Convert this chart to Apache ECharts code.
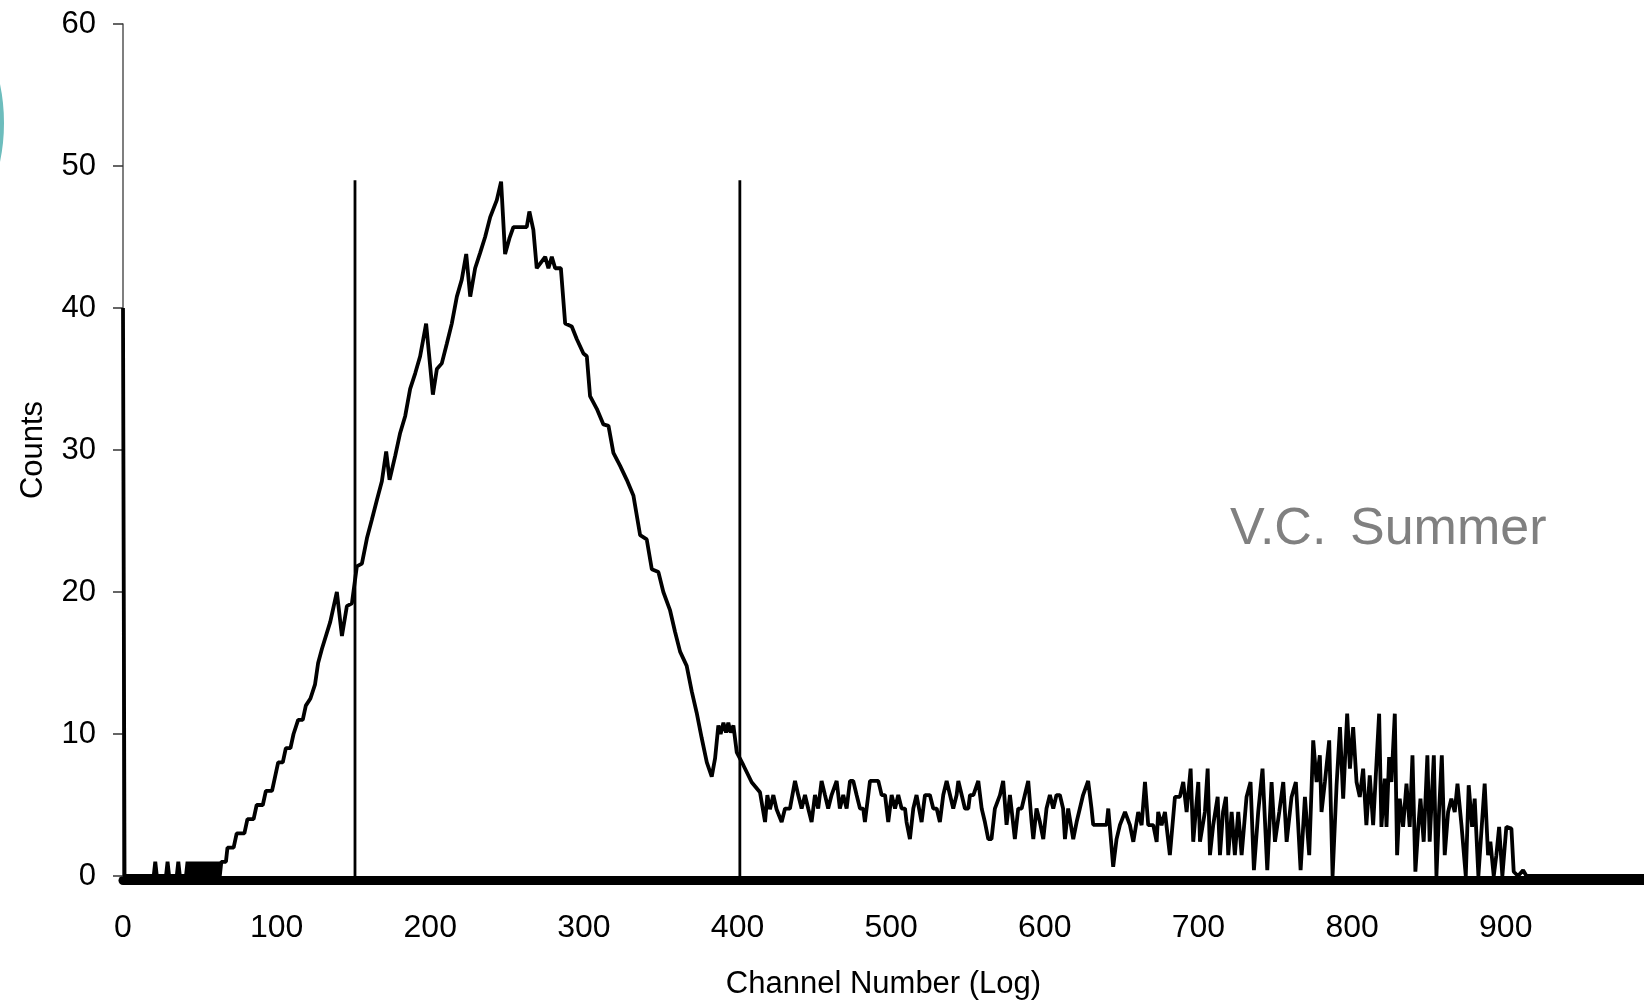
<!DOCTYPE html>
<html>
<head>
<meta charset="utf-8">
<script src="https://cdn.jsdelivr.net/npm/echarts@6/dist/echarts.min.js"></script>
<style>
html,body{margin:0;padding:0;background:#fff;}
#chart{width:1644px;height:1005px;}
</style>
</head>
<body>
<div id="chart"></div>
<script>
// ---- data: [channel, counts] ----
const lowChannels = [
  [0,40],[1,0],[20,0],[21,1],[22,0],[28,0],[29,1],[30,0],[35,0],[36,1],[37,0],
  [41,0],[42,1],[43,0],[44,1],[45,0],[46,1],[47,0],[48,1],[49,0],[50,1],[51,0],
  [52,1],[53,0],[54,1],[55,0],[56,1],[57,0],[58,1],[59,0],[60,1],[61,0],[62,1],
  [63,0],[64,1],[67,1],[68,2],[72,2],[74,3],[79,3],[81,4],[85,4],[87,5],[91,5],
  [93,6],[97,6],[99,7],[101,8],[104,8],[106,9],[109,9],[111,10],[114,11],[117,11],
  [119,12],[122,12.5],[125,13.5],[127,15]
];
const peakChannels = [
  [129.5,16.0],[134.9,17.9],[139.2,20.0],[142.5,16.9],[145.7,19.0],[149,19.2],
  [152.2,21.8],[155.5,22.0],[158.8,23.8],[162,25.1],[165.3,26.5],[168.5,27.8],
  [171.3,29.9],[173.5,27.9],[177.2,29.6],[180.4,31.2],[183.7,32.4],[186.9,34.3],
  [190.2,35.4],[193.4,36.6],[197.3,38.9],[201.7,33.9],[204.3,35.7],[207.5,36.1],
  [210.8,37.5],[214,38.9],[217.3,40.8],[220.5,42.0],[223.4,43.8],[226,40.8],
  [229.2,42.8],[232.5,43.9],[235.7,45.0],[239,46.4],[243.3,47.6],[246.1,48.9],
  [248.7,43.8],[251.5,44.9],[254.1,45.7],[258.5,45.7],[262.8,45.7],[264.5,46.8],
  [267.1,45.5],[269.3,42.8],[274.8,43.6],[276.9,42.8],[279.1,43.6],[281.3,42.8],
  [285,42.8],[287.8,38.9],[292.1,38.7],[295.4,37.8],[299.7,36.8]
];
const fallChannels = [
  [301.9,36.6],[304,33.8],[308.4,32.9],[312.7,31.8],[316,31.7],[319.2,29.8],
  [323.5,28.9],[327.9,27.9],[332.2,26.8],[336.6,24.0],[340.9,23.7],[344.2,21.6],
  [348.5,21.4],[351.7,20.0],[356.1,18.7],[359.3,17.2],[362.6,15.8],[366.9,14.8],
  [370.2,13.0],[373.4,11.5],[376.7,9.7],[380,8.0],[383.2,7.0],[385.4,8.3],
  [387.5,10.6],[389,10.0],[390.8,10.8],[392.5,10.1],[394,10.8],[395.5,10.1],
  [397.3,10.6],[399.5,8.7],[403.8,7.8],[409.2,6.6],[414.6,5.9]
];
const plateauChannels = [
  [417.9,3.8],[419.4,5.7],[421.1,4.7],[423.3,5.7],[425.4,4.7],[428.7,3.8],[430.9,4.75],
  [434.1,4.75],[437.4,6.7],[439.5,5.7],[441.7,4.75],[443.9,5.7],[446,4.75],[448.2,3.8],
  [450.4,5.7],[452.5,4.75],[454.7,6.7],[456.9,5.7],[459,4.75],[461.2,5.7],[464.5,6.7],
  [466.6,4.75],[468.8,5.7],[471,4.75],[473.2,6.7],[475.3,6.7],[477.5,5.7],[479.7,4.75],
  [481.8,4.75],[482.9,3.8],[485.1,5.7],[486.2,6.7],[489.4,6.7],[491.6,6.7],[493.8,5.7],
  [496,5.7],[498.1,3.8],[500.3,5.7],[502.5,4.75],[504.6,5.7],[506.8,4.75],[509,4.75],
  [510,3.8],[512.2,2.6],[514.4,4.75],[516.5,5.7],[517.6,5.7],[519.8,3.8],[522,5.7],
  [525.2,5.7],[527.4,4.75],[529.6,4.75],[531.7,3.8],[533.9,5.7],[536.1,6.7],[538.3,5.7],
  [540.4,4.75],[542.6,5.7],[543.7,6.7],[545.9,5.7],[548,4.75],[550.2,4.75],[551.3,5.7],
  [553.5,5.7],[556.7,6.7],[558.9,4.75],[561,3.8],[563.2,2.6],[565.3,2.6],[567.5,4.75],
  [570.8,5.7],[572.9,6.7],[575.1,3.6],[577.3,5.7],[578.4,5.7],[580.5,2.6],[582.7,4.75],
  [584.9,4.75],[587,5.7],[589.2,6.7],[591.4,3.8],[592.5,2.6],[594.6,4.75],[596.8,3.8],
  [599,2.6],[601.1,4.75],[603.3,5.7],[605.5,4.75],[607.6,5.7],[609.8,5.7],[611.9,4.75],
  [613.1,2.6],[615.2,4.75],[616.3,4.75],[618.5,2.6],[620.7,3.8],[622.8,4.75],[624.9,5.7],
  [628.2,6.7],[630.4,4.75],[631.5,3.6],[634,3.6],[637,3.6],[640.2,3.6],[641.3,4.75],
  [643,2.6],[644.5,0.65],[646.7,2.6],[648.9,3.6]
];
const noisyChannels = [
  [652.2,4.51],[655.4,3.58],[657.6,2.41],[660.8,4.51],[663,3.58],[665.2,6.62],[667.3,3.58],
  [670.6,3.58],[672.8,2.41],[673.8,4.51],[676,3.58],[678.2,4.51],[681.4,1.47],[684.7,5.57],
  [687.9,5.57],[690.1,6.62],[692.3,4.51],[694.9,7.56],[696.6,2.41],[699.9,6.62],[701,2.41],
  [704.2,4.51],[706,7.56],[707.5,1.47],[709.6,3.58],[712.5,5.57],[714,1.47],[716,4.51],
  [717.9,5.57],[719.4,1.47],[721.6,4.51],[723.7,1.47],[725.9,4.51],[728.1,1.47],[731.3,5.57],
  [733.9,6.62],[736.1,0.41],[738.9,4.51],[741.7,7.56],[744.8,0.41],[747.6,6.62],[749.8,2.41],
  [752.6,4.51],[755.2,6.62],[757.4,2.41],[760.6,5.57],[763.4,6.62],[766.5,0.41],[769.3,5.57],
  [772.1,1.47],[774.7,9.55],[776.9,6.62],[779,8.5],[780.1,4.51],[782.3,6.62],[785.1,9.55],
  [787.3,0],[789.9,6.39],[792.1,10.49],[794.2,5.45],[796.8,11.43],[798.6,7.56],[800.7,10.49],
  [802.9,6.62]
];
const tailChannels = [
  [805,5.57],[807.2,7.56],[809.3,3.58],[811.5,7.09],[813.7,3.58],[817.6,11.43],[819.1,3.46],
  [821.3,6.86],[822.4,3.46],[824.1,8.38],[825.6,6.62],[827.8,11.43],[829.3,1.47],[831,5.45],
  [833.2,3.46],[835.4,6.5],[837.5,3.46],[839.3,8.5],[841.2,0.3],[843,3.34],[844.5,5.45],
  [846.6,2.41],[849,8.5],[850.5,2.41],[853.2,8.5],[854.9,0],[856.6,4.51],[858.4,8.5],
  [860.3,1.47],[862.5,4.51],[864.6,5.45],[866.8,4.51],[868.6,6.5],[871.2,3.58],[874,0],
  [875.9,6.39],[878.1,3.46],[879.8,5.45],[882.2,0],[883.7,2.41],[886.3,6.5],[888.5,1.47],
  [890,2.41],[892.2,0],[893.9,1.47],[895.7,3.46],[897.8,0],[900.4,3.46],[903.7,3.34],
  [905.2,0.3],[908,0],[911.3,0.41],[913.5,0],[990,0]
];
// window (gate) markers
const gateChannels = [151, 401.5];
const gateTop = 49;
// axis ranges
const xRange = [0, 990, 100];
const yRange = [0, 60, 10];

const spectrum = [].concat(lowChannels, peakChannels, fallChannels, plateauChannels, noisyChannels, tailChannels);
const FONT = '"Liberation Sans", Arial, Helvetica, sans-serif';

const chart = echarts.init(document.getElementById('chart'), null, {renderer: 'canvas'});
const gateSeries = gateChannels.map(ch => ({
  type: 'line',
  data: [[ch, 0], [ch, gateTop]],
  symbol: 'none',
  lineStyle: {color: '#000', width: 2.8},
  silent: true,
  z: 3
}));

chart.setOption({
  animation: false,
  backgroundColor: '#fff',
  grid: {left: 123, right: 0, top: 24, bottom: 127},
  xAxis: {
    type: 'value',
    min: xRange[0], max: xRange[1], interval: xRange[2],
    offset: 4,
    axisLine: {onZero: false, lineStyle: {color: '#000', width: 9}},
    axisTick: {show: false},
    splitLine: {show: false},
    axisLabel: {color: '#000', fontFamily: FONT, fontSize: 32, margin: 32, showMaxLabel: false},
    name: 'Channel Number (Log)',
    nameLocation: 'middle',
    nameGap: 89,
    nameTextStyle: {color: '#000', fontFamily: FONT, fontSize: 31}
  },
  yAxis: {
    type: 'value',
    min: yRange[0], max: yRange[1], interval: yRange[2],
    axisLine: {show: true, lineStyle: {color: '#555', width: 1.5}},
    axisTick: {show: true, length: 10, lineStyle: {color: '#333', width: 1.5}},
    splitLine: {show: false},
    axisLabel: {color: '#000', fontFamily: FONT, fontSize: 31, margin: 27},
    name: 'Counts',
    nameLocation: 'middle',
    nameRotate: 90,
    nameGap: 74,
    nameTextStyle: {color: '#000', fontFamily: FONT, fontSize: 31}
  },
  series: [{
    type: 'line',
    data: spectrum,
    symbol: 'none',
    lineStyle: {color: '#000', width: 3.8},
    silent: true,
    z: 4
  }].concat(gateSeries),
  graphic: [
    {type: 'circle', shape: {cx: -186, cy: 123, r: 188}, style: {fill: 'none', stroke: '#6dbdbd', lineWidth: 4}, silent: true},
    {type: 'text', style: {text: 'V.C.', x: 1230, y: 530, fill: '#808080', font: '52px ' + FONT, textVerticalAlign: 'middle', textAlign: 'left'}, silent: true},
    {type: 'text', style: {text: 'Summer', x: 1350, y: 530, fill: '#808080', font: '52px ' + FONT, textVerticalAlign: 'middle', textAlign: 'left'}, silent: true}
  ]
});
</script>
</body>
</html>
